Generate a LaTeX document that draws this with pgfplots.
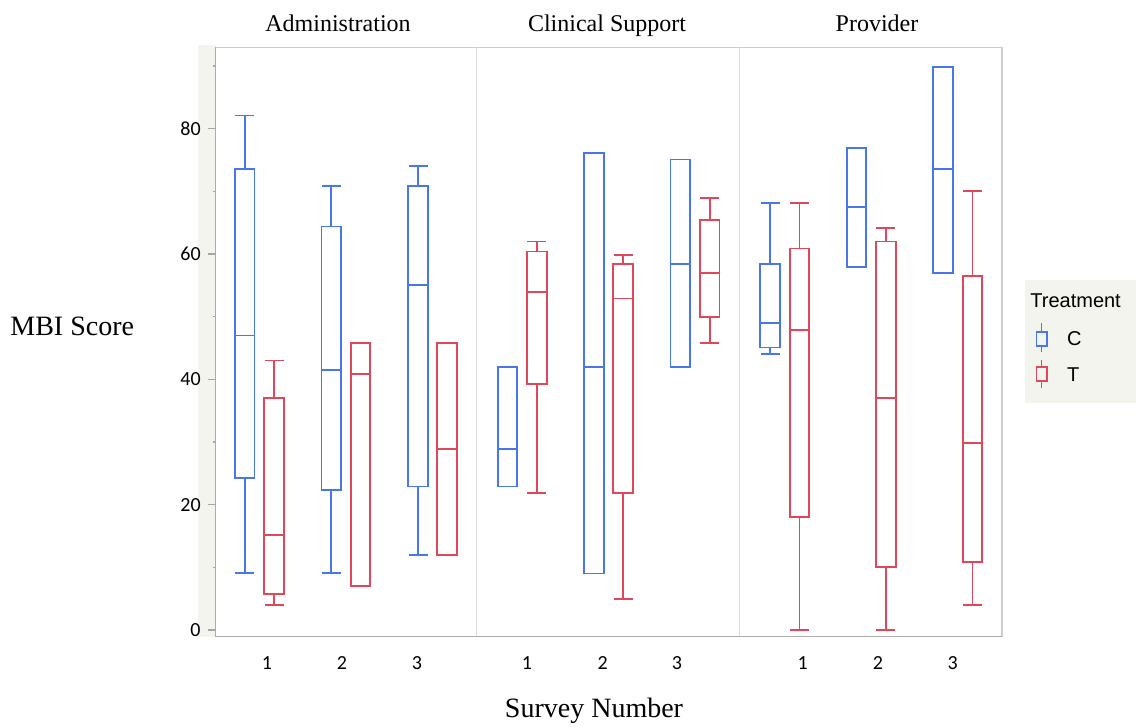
\documentclass[border=0pt]{standalone}
\usepackage{fontspec}
\setmainfont{Liberation Serif}
\newfontfamily\arial{Liberation Sans}
\newfontfamily\calib{Carlito}
\usepackage{pgfplots}
\pgfplotsset{compat=1.18}
\usepgfplotslibrary{statistics}
\definecolor{cblue}{RGB}{73,118,232}
\definecolor{tred}{RGB}{222,72,90}
\definecolor{bgbeige}{RGB}{244,244,238}
% #1 colour, #2 position, #3 low whisker, #4 q1, #5 median, #6 q3, #7 high whisker
\newcommand{\bx}[7]{\addplot[#1, line width=0.9pt, boxplot prepared={draw position=#2, lower whisker=#3, lower quartile=#4, median=#5, upper quartile=#6, upper whisker=#7}] coordinates {};}
\begin{document}
\begin{tikzpicture}
\useasboundingbox (0,0) rectangle (568pt,363.5pt);
\fill[bgbeige] (99pt,45pt) rectangle (107.85pt,341pt);
\fill[bgbeige] (512.5pt,162pt) rectangle (568pt,223.5pt);
\begin{axis}[
  at={(107.85pt,45.15pt)}, anchor=south west,
  width=393.15pt, height=294.7pt, scale only axis,
  xmin=0, xmax=786.3, ymin=-1.07, ymax=93,
  axis line style={gray!40, line width=0.6pt},
  xtick={51.3,126.3,201.3,311.3,387,461.3,587,662.3,737},
  xticklabels={1,2,3,1,2,3,1,2,3},
  ytick={0,20,40,60,80}, minor ytick={10,30,50,70,90},
  ytick pos=left, xtick pos=bottom,
  tick align=outside, major tick length=4pt, minor tick length=1.5pt,
  x tick style={draw=none},
  y tick style={gray!70, line width=0.6pt},
  tick label style={font=\calib\fontsize{10}{12}\selectfont},
  /pgf/number format/assume math mode=true,
  xticklabel style={anchor=center, yshift=-9pt},
  boxplot/draw direction=y,
  boxplot/box extend=19.7,
  boxplot/whisker extend=19,
  clip=false,
]
\draw[gray!30, line width=0.6pt] (axis cs:261,-1.07) -- (axis cs:261,93);
\draw[gray!30, line width=0.6pt] (axis cs:523.6,-1.07) -- (axis cs:523.6,93);
% Administration
\bx{cblue}{29.0}{9.1}{24.3}{47.0}{73.6}{82.1}
\bx{tred}{58.3}{4.0}{5.7}{15.2}{37.0}{43.0}
\bx{cblue}{115.6}{9.1}{22.4}{41.5}{64.4}{70.9}
\bx{tred}{144.8}{7.0}{7.0}{40.9}{45.8}{45.8}
\bx{cblue}{202.3}{12.0}{22.9}{55.0}{70.9}{74.0}
\bx{tred}{231.3}{12.0}{12.0}{28.9}{45.8}{45.8}
% Clinical Support
\bx{cblue}{291.8}{22.9}{22.9}{28.9}{42.0}{42.0}
\bx{tred}{321.1}{21.9}{39.3}{54.0}{60.4}{62.0}
\bx{cblue}{378.3}{9.0}{9.0}{42.0}{76.1}{76.1}
\bx{tred}{407.3}{4.9}{21.9}{52.9}{58.4}{59.9}
\bx{cblue}{464.6}{42.0}{42.0}{58.4}{75.1}{75.1}
\bx{tred}{494.0}{45.8}{50.0}{57.0}{65.4}{69.0}
% Provider
\bx{cblue}{554.5}{44.0}{45.1}{49.0}{58.4}{68.1}
\bx{tred}{583.8}{0.0}{18.0}{47.9}{60.9}{68.1}
\bx{cblue}{640.8}{57.9}{57.9}{67.5}{76.9}{76.9}
\bx{tred}{670.1}{0.0}{10.0}{37.0}{62.0}{64.1}
\bx{cblue}{727.5}{57.0}{57.0}{73.6}{89.9}{89.9}
\bx{tred}{756.8}{4.0}{10.9}{29.9}{56.5}{70.1}
\draw[gray!65, line width=0.7pt] (axis cs:0,93) -- (axis cs:0,-1.07) -- (axis cs:786.3,-1.07);
\end{axis}
% panel titles
\node[anchor=base, inner sep=0, font=\fontsize{12}{14}\selectfont] at (169pt,347.5pt) {Administration};
\node[anchor=base, inner sep=0, font=\fontsize{12}{14}\selectfont] at (303.5pt,347.5pt) {Clinical Support};
\node[anchor=base, inner sep=0, font=\fontsize{12}{14}\selectfont] at (438.5pt,347.5pt) {Provider};
% axis titles
\node[anchor=base west, inner sep=0, font=\fontsize{14}{16}\selectfont] at (5pt,195.5pt) {MBI Score};
\node[anchor=base, inner sep=0, font=\fontsize{14}{16}\selectfont] at (297pt,4.5pt) {Survey Number};
% legend
\node[anchor=west, inner sep=0, font=\arial\fontsize{10}{12}\selectfont] at (515pt,213.15pt) {Treatment};
\draw[cblue, line width=0.8pt] (518.2pt,190.5pt) rectangle (523.4pt,197.6pt);
\draw[cblue, line width=0.8pt] (520.8pt,201.8pt) -- (520.8pt,197.6pt) (520.8pt,190.5pt) -- (520.8pt,187.6pt);
\node[anchor=west, inner sep=0, font=\arial\fontsize{10}{12}\selectfont] at (533.35pt,194.35pt) {C};
\draw[tred, line width=0.8pt] (518.2pt,173.1pt) rectangle (523.4pt,180pt);
\draw[tred, line width=0.8pt] (520.8pt,183.5pt) -- (520.8pt,180pt) (520.8pt,173.1pt) -- (520.8pt,169.7pt);
\node[anchor=west, inner sep=0, font=\arial\fontsize{10}{12}\selectfont] at (533.35pt,176.35pt) {T};
\end{tikzpicture}
\end{document}
